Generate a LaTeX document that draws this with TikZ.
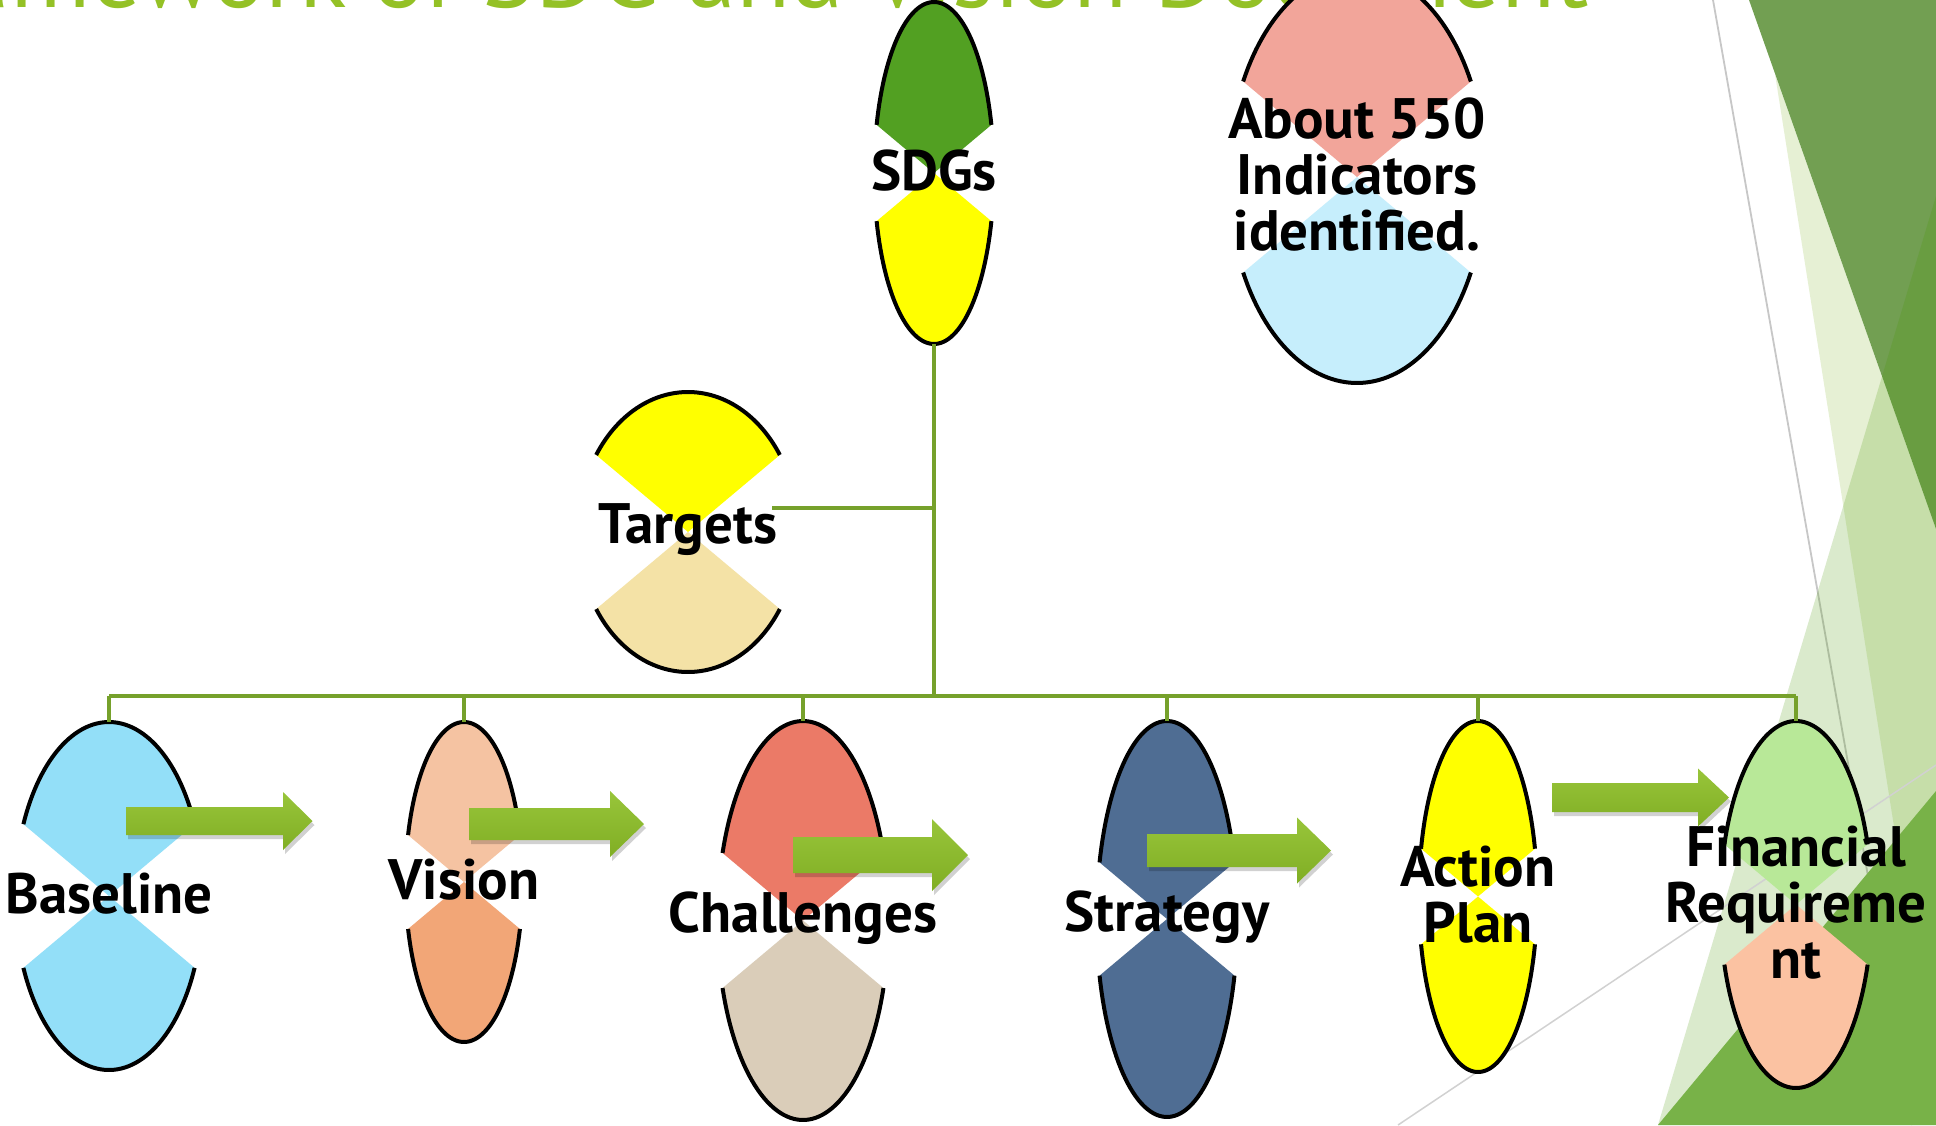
\documentclass[tikz,border=0pt]{standalone}
\usepackage{fontspec}
\setmainfont{PT Sans}
\usetikzlibrary{calc}

\definecolor{connline}{RGB}{118,161,43}
\definecolor{titlegreen}{RGB}{148,193,38}
\definecolor{facetdark}{RGB}{114,159,82}
\definecolor{facetpale}{RGB}{230,240,212}
\definecolor{facetmid}{RGB}{120,178,72}
\definecolor{facettint}{RGB}{70,150,0}
\definecolor{arrowtop}{RGB}{152,197,58}
\definecolor{arrowbot}{RGB}{128,174,36}

\definecolor{sdgtop}{RGB}{82,160,34}
\definecolor{lemon}{RGB}{255,255,0}
\definecolor{salmon}{RGB}{242,165,154}
\definecolor{icyblue}{RGB}{198,238,252}
\definecolor{wheat}{RGB}{244,226,166}
\definecolor{skyblue}{RGB}{147,223,248}
\definecolor{peach}{RGB}{245,195,162}
\definecolor{apricot}{RGB}{242,166,119}
\definecolor{coral}{RGB}{235,122,103}
\definecolor{sand}{RGB}{218,205,185}
\definecolor{slate}{RGB}{79,109,147}
\definecolor{mint}{RGB}{184,232,152}
\definecolor{blush}{RGB}{251,194,162}

\tikzset{
  conn/.style={connline, line width=3.6pt},
  ovalrim/.style={black, line width=4pt},
  ovaltext/.style={font=\bfseries\fontsize{57}{56}\selectfont, align=center, inner sep=0pt},
  titletext/.style={titlegreen, font=\fontsize{99}{104}\selectfont, inner sep=0pt},
  greyline/.style={black!22, line width=1.8pt}
}

% oval cut into a top and a bottom wedge: name, cx, cy, a, b, top colour, bottom colour, text
\newcommand{\cutoval}[8]{%
  \pgfmathsetmacro\cutang{atan(#4/#5*tan(40))}
  \pgfmathsetmacro\cutlo{180+\cutang}
  \pgfmathsetmacro\cuthi{360-\cutang}
  \pgfmathsetmacro\cutbl{180-\cutang}
  \fill[#6] (#2,#3) -- plot[domain=\cutlo:\cuthi, samples=60] ({#2+#4*cos(\x)},{#3+#5*sin(\x)}) -- cycle;
  \fill[#7] (#2,#3) -- plot[domain=\cutang:\cutbl, samples=60] ({#2+#4*cos(\x)},{#3+#5*sin(\x)}) -- cycle;
  \draw[ovalrim] plot[domain=\cutlo:\cuthi, samples=60] ({#2+#4*cos(\x)},{#3+#5*sin(\x)});
  \draw[ovalrim] plot[domain=\cutang:\cutbl, samples=60] ({#2+#4*cos(\x)},{#3+#5*sin(\x)});
  \coordinate (#1-top) at (#2,#3-#5);
  \coordinate (#1-bot) at (#2,#3+#5);
  \node[ovaltext] (#1) at (#2,#3-2) {#8};
}

% block arrow: x start, y centre, half body, x head, half head, x tip
\newcommand{\flowarrow}[6]{%
  \fill[black, opacity=0.18] ($(#1,#2-#3)+(2,4)$) -- ++(#4-#1,0) -- ($(#4,#2-#5)+(2,4)$)
    -- ($(#6,#2)+(2,4)$) -- ($(#4,#2+#5)+(2,4)$) -- ($(#4,#2+#3)+(2,4)$) -- ($(#1,#2+#3)+(2,4)$) -- cycle;
  \shade[top color=arrowtop, bottom color=arrowbot] (#1,#2-#3) -- (#4,#2-#3) -- (#4,#2-#5)
    -- (#6,#2) -- (#4,#2+#5) -- (#4,#2+#3) -- (#1,#2+#3) -- cycle;
}

\begin{document}
\begin{tikzpicture}[x=1pt, y=-1pt]
  \useasboundingbox (0,0) rectangle (1936,1125);
  \clip (0,0) rectangle (1936,1125);

  % slide background
  \fill[white] (0,0) rectangle (1936,1125);
  \node[titletext, anchor=base east] (title) at (1589,7) {Framework of SDG and Vision Document};
  \draw[greyline] (1713,0) -- (1912,1125);
  \fill[facetpale] (1775,74) -- (1936,529) -- (1936,1092) -- cycle;
  \fill[facetdark] (1749,0) -- (1936,0) -- (1936,529) -- cycle;
  \fill[facettint, opacity=0.2] (1658,1125) -- (1936,196) -- (1936,1125) -- cycle;
  \draw[greyline, black!18, line width=1.5pt] (1398,1125) -- (1936,765);
  \fill[facetmid] (1658,1125) -- (1936,791) -- (1936,1125) -- cycle;

  % connectors
  \coordinate (bus) at (0,696);
  \coordinate (tgt-in) at (772,508);

  % ovals
  \cutoval{sdg}{934}{173}{59.8}{171}{sdgtop}{lemon}{SDGs}
  \cutoval{ind}{1357}{177}{128.5}{206}{salmon}{icyblue}{About 550\\Indicators\\identified.}
  \cutoval{tgt}{688}{532}{110}{140}{lemon}{wheat}{Targets}
  \cutoval{base}{109}{896}{94}{174}{skyblue}{skyblue}{Baseline}
  \cutoval{vis}{464}{882}{58.5}{160}{peach}{apricot}{Vision}
  \cutoval{chal}{803}{920.5}{85.5}{199.5}{coral}{sand}{Challenges}
  \cutoval{strat}{1167}{919}{70.4}{198}{slate}{slate}{Strategy}
  \cutoval{act}{1478}{896.5}{59.2}{175.5}{lemon}{lemon}{Action\\Plan}
  \cutoval{fin}{1796}{904.5}{75.8}{183.5}{mint}{blush}{Financial\\Requireme\\nt}

  \draw[conn] (sdg-bot) -- (sdg-bot |- bus);
  \draw[conn] (tgt-in) -- (tgt-in -| sdg-bot);
  \draw[conn] (base-top |- bus) -- (fin-top |- bus);
  \foreach \n in {base,vis,chal,strat,act,fin}
    \draw[conn] (\n-top |- bus) -- (\n-top);

  % arrows between the steps
  \flowarrow{126}{821}{14}{283}{29}{312.5}
  \flowarrow{469}{824}{16}{610}{33}{644}
  \flowarrow{793}{855}{18}{932}{36}{968}
  \flowarrow{1147}{850.5}{16.5}{1297}{33}{1331}
  \flowarrow{1552}{797.5}{14.5}{1698}{29}{1729}
\end{tikzpicture}
\end{document}
